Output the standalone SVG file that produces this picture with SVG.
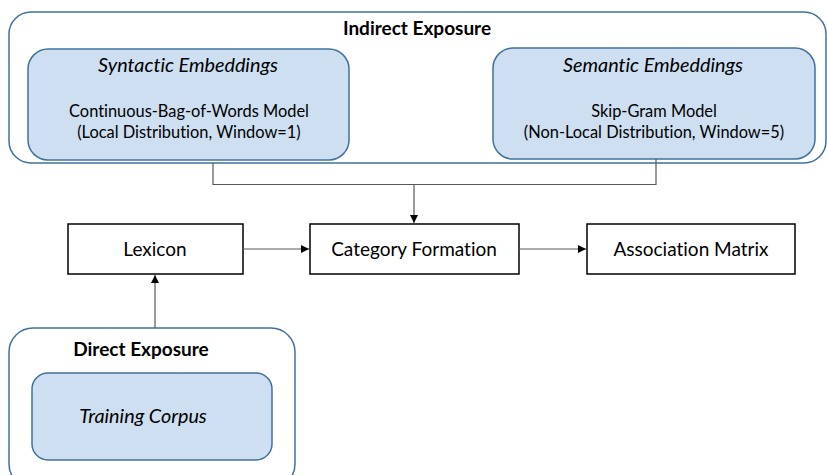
<svg xmlns="http://www.w3.org/2000/svg" width="827" height="475" viewBox="0 0 827 475">
<style>
text{font-family:Lato,"Open Sans","Liberation Sans",sans-serif;fill:#000;text-anchor:middle;font-variant-ligatures:none}
.t{font-size:19px;font-weight:bold}
.it{font-size:19.8px;font-style:italic}
.n{font-size:16.4px}
.b{font-size:19px}
.outer{fill:#fff;stroke:#41719c;stroke-width:1.5}
.inner{fill:#cddff0;stroke:#41719c;stroke-width:1.5}
.box{fill:#fff;stroke:#000;stroke-width:1.5}
.c{fill:none;stroke:#595959;stroke-width:1.2}
</style>
<defs>
<marker id="ah" viewBox="0 0 10 10" refX="10" refY="5" markerWidth="8" markerHeight="8" markerUnits="userSpaceOnUse" orient="auto">
<path d="M0,0 L10,5 L0,10 z" fill="#000"/>
</marker>
</defs>
<g id="indirect-exposure">
<rect class="outer" x="9" y="12" width="817" height="151" rx="22"/>
<text class="t" x="417" y="35">Indirect Exposure</text>
</g>
<g id="syntactic-embeddings">
<rect class="inner" x="28" y="49" width="321" height="111" rx="20"/>
<text class="it" x="188" y="72">Syntactic Embeddings</text>
<text class="n" x="189" y="117">Continuous-Bag-of-Words Model</text>
<text class="n" x="189" y="138">(Local Distribution, Window=1)</text>
</g>
<g id="semantic-embeddings">
<rect class="inner" x="493" y="48" width="322" height="111" rx="20"/>
<text class="it" x="653" y="72">Semantic Embeddings</text>
<text class="n" x="654" y="117">Skip-Gram Model</text>
<text class="n" x="654" y="138">(Non-Local Distribution, Window=5)</text>
</g>
<g id="lexicon">
<rect class="box" x="68" y="224" width="175" height="50"/>
<text class="b" x="155" y="256">Lexicon</text>
</g>
<g id="category-formation">
<rect class="box" x="310" y="224" width="209" height="50"/>
<text class="b" x="414" y="256">Category Formation</text>
</g>
<g id="association-matrix">
<rect class="box" x="587" y="224" width="208" height="50"/>
<text class="b" x="691" y="256">Association Matrix</text>
</g>
<g id="direct-exposure">
<rect class="outer" x="9" y="328" width="286" height="160" rx="24"/>
<text class="t" x="141" y="356">Direct Exposure</text>
</g>
<g id="training-corpus">
<rect class="inner" x="32" y="373" width="240" height="87" rx="16"/>
<text class="it" x="143" y="423">Training Corpus</text>
</g>
<g id="connectors">
<polyline class="c" points="213,163 213,184.5 656,184.5 656,159"/>
<line class="c" x1="414" y1="184.5" x2="414" y2="223" marker-end="url(#ah)"/>
<line class="c" x1="243" y1="249" x2="309" y2="249" marker-end="url(#ah)"/>
<line class="c" x1="519" y1="249" x2="586" y2="249" marker-end="url(#ah)"/>
<line class="c" x1="155" y1="328" x2="155" y2="275" marker-end="url(#ah)"/>
</g>
</svg>
